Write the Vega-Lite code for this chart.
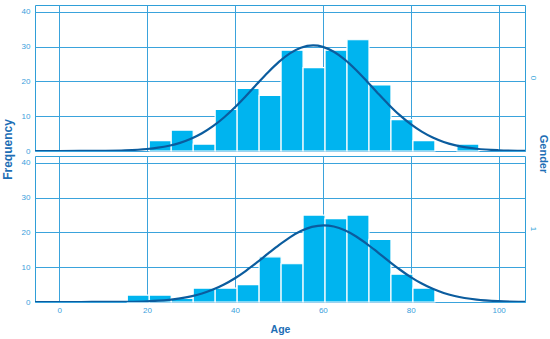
{
  "$schema": "https://vega.github.io/schema/vega-lite/v6.json",
  "padding": {"left": 2, "top": 4, "right": 0, "bottom": 2},
  "background": "white",
  "title": {"text": "Frequency", "orient": "left", "anchor": "middle", "fontSize": 12, "fontWeight": "bold", "color": "#1d6eb5", "font": "Liberation Sans", "offset": 6, "dx": 20},
  "data": {"values": [
    {"Gender": "0", "kind": "bar", "start": 20.5, "end": 25.5, "count": 3},
    {"Gender": "0", "kind": "bar", "start": 25.5, "end": 30.5, "count": 6},
    {"Gender": "0", "kind": "bar", "start": 30.5, "end": 35.5, "count": 2},
    {"Gender": "0", "kind": "bar", "start": 35.5, "end": 40.5, "count": 12},
    {"Gender": "0", "kind": "bar", "start": 40.5, "end": 45.5, "count": 18},
    {"Gender": "0", "kind": "bar", "start": 45.5, "end": 50.5, "count": 16},
    {"Gender": "0", "kind": "bar", "start": 50.5, "end": 55.5, "count": 29},
    {"Gender": "0", "kind": "bar", "start": 55.5, "end": 60.5, "count": 24},
    {"Gender": "0", "kind": "bar", "start": 60.5, "end": 65.5, "count": 29},
    {"Gender": "0", "kind": "bar", "start": 65.5, "end": 70.5, "count": 32},
    {"Gender": "0", "kind": "bar", "start": 70.5, "end": 75.5, "count": 19},
    {"Gender": "0", "kind": "bar", "start": 75.5, "end": 80.5, "count": 9},
    {"Gender": "0", "kind": "bar", "start": 80.5, "end": 85.5, "count": 3},
    {"Gender": "0", "kind": "bar", "start": 90.5, "end": 95.5, "count": 2},
    {"Gender": "1", "kind": "bar", "start": 15.5, "end": 20.5, "count": 2},
    {"Gender": "1", "kind": "bar", "start": 20.5, "end": 25.5, "count": 2},
    {"Gender": "1", "kind": "bar", "start": 25.5, "end": 30.5, "count": 1},
    {"Gender": "1", "kind": "bar", "start": 30.5, "end": 35.5, "count": 4},
    {"Gender": "1", "kind": "bar", "start": 35.5, "end": 40.5, "count": 4},
    {"Gender": "1", "kind": "bar", "start": 40.5, "end": 45.5, "count": 5},
    {"Gender": "1", "kind": "bar", "start": 45.5, "end": 50.5, "count": 13},
    {"Gender": "1", "kind": "bar", "start": 50.5, "end": 55.5, "count": 11},
    {"Gender": "1", "kind": "bar", "start": 55.5, "end": 60.5, "count": 25},
    {"Gender": "1", "kind": "bar", "start": 60.5, "end": 65.5, "count": 24},
    {"Gender": "1", "kind": "bar", "start": 65.5, "end": 70.5, "count": 25},
    {"Gender": "1", "kind": "bar", "start": 70.5, "end": 75.5, "count": 18},
    {"Gender": "1", "kind": "bar", "start": 75.5, "end": 80.5, "count": 8},
    {"Gender": "1", "kind": "bar", "start": 80.5, "end": 85.5, "count": 4},
    {"Gender": "0", "kind": "curve", "age": -6, "density": 0.0003},
    {"Gender": "0", "kind": "curve", "age": 0, "density": 0.003},
    {"Gender": "0", "kind": "curve", "age": 5, "density": 0.013},
    {"Gender": "0", "kind": "curve", "age": 10, "density": 0.053},
    {"Gender": "0", "kind": "curve", "age": 15, "density": 0.185},
    {"Gender": "0", "kind": "curve", "age": 20, "density": 0.57},
    {"Gender": "0", "kind": "curve", "age": 22.5, "density": 0.95},
    {"Gender": "0", "kind": "curve", "age": 25, "density": 1.52},
    {"Gender": "0", "kind": "curve", "age": 27.5, "density": 2.35},
    {"Gender": "0", "kind": "curve", "age": 30, "density": 3.53},
    {"Gender": "0", "kind": "curve", "age": 32.5, "density": 5.11},
    {"Gender": "0", "kind": "curve", "age": 35, "density": 7.14},
    {"Gender": "0", "kind": "curve", "age": 37.5, "density": 9.64},
    {"Gender": "0", "kind": "curve", "age": 40, "density": 12.57},
    {"Gender": "0", "kind": "curve", "age": 42.5, "density": 15.83},
    {"Gender": "0", "kind": "curve", "age": 45, "density": 19.25},
    {"Gender": "0", "kind": "curve", "age": 47.5, "density": 22.6},
    {"Gender": "0", "kind": "curve", "age": 50, "density": 25.64},
    {"Gender": "0", "kind": "curve", "age": 52.5, "density": 28.09},
    {"Gender": "0", "kind": "curve", "age": 55, "density": 29.71},
    {"Gender": "0", "kind": "curve", "age": 57.8, "density": 30.37},
    {"Gender": "0", "kind": "curve", "age": 60, "density": 29.96},
    {"Gender": "0", "kind": "curve", "age": 62.5, "density": 28.56},
    {"Gender": "0", "kind": "curve", "age": 65, "density": 26.29},
    {"Gender": "0", "kind": "curve", "age": 67.5, "density": 23.37},
    {"Gender": "0", "kind": "curve", "age": 70, "density": 20.07},
    {"Gender": "0", "kind": "curve", "age": 72.5, "density": 16.64},
    {"Gender": "0", "kind": "curve", "age": 75, "density": 13.33},
    {"Gender": "0", "kind": "curve", "age": 77.5, "density": 10.3},
    {"Gender": "0", "kind": "curve", "age": 80, "density": 7.7},
    {"Gender": "0", "kind": "curve", "age": 82.5, "density": 5.56},
    {"Gender": "0", "kind": "curve", "age": 85, "density": 3.87},
    {"Gender": "0", "kind": "curve", "age": 87.5, "density": 2.61},
    {"Gender": "0", "kind": "curve", "age": 90, "density": 1.69},
    {"Gender": "0", "kind": "curve", "age": 95, "density": 0.64},
    {"Gender": "0", "kind": "curve", "age": 100, "density": 0.21},
    {"Gender": "0", "kind": "curve", "age": 105, "density": 0.061},
    {"Gender": "0", "kind": "curve", "age": 107, "density": 0.03},
    {"Gender": "1", "kind": "curve", "age": -6, "density": 0.0001},
    {"Gender": "1", "kind": "curve", "age": 0, "density": 0.0007},
    {"Gender": "1", "kind": "curve", "age": 5, "density": 0.0035},
    {"Gender": "1", "kind": "curve", "age": 10, "density": 0.016},
    {"Gender": "1", "kind": "curve", "age": 15, "density": 0.063},
    {"Gender": "1", "kind": "curve", "age": 20, "density": 0.21},
    {"Gender": "1", "kind": "curve", "age": 22.5, "density": 0.37},
    {"Gender": "1", "kind": "curve", "age": 25, "density": 0.63},
    {"Gender": "1", "kind": "curve", "age": 27.5, "density": 1.03},
    {"Gender": "1", "kind": "curve", "age": 30, "density": 1.61},
    {"Gender": "1", "kind": "curve", "age": 32.5, "density": 2.44},
    {"Gender": "1", "kind": "curve", "age": 35, "density": 3.57},
    {"Gender": "1", "kind": "curve", "age": 37.5, "density": 5.03},
    {"Gender": "1", "kind": "curve", "age": 40, "density": 6.84},
    {"Gender": "1", "kind": "curve", "age": 42.5, "density": 8.98},
    {"Gender": "1", "kind": "curve", "age": 45, "density": 11.37},
    {"Gender": "1", "kind": "curve", "age": 47.5, "density": 13.89},
    {"Gender": "1", "kind": "curve", "age": 50, "density": 16.37},
    {"Gender": "1", "kind": "curve", "age": 52.5, "density": 18.61},
    {"Gender": "1", "kind": "curve", "age": 55, "density": 20.41},
    {"Gender": "1", "kind": "curve", "age": 57.5, "density": 21.6},
    {"Gender": "1", "kind": "curve", "age": 60.2, "density": 22.06},
    {"Gender": "1", "kind": "curve", "age": 62.5, "density": 21.73},
    {"Gender": "1", "kind": "curve", "age": 65, "density": 20.65},
    {"Gender": "1", "kind": "curve", "age": 67.5, "density": 18.93},
    {"Gender": "1", "kind": "curve", "age": 70, "density": 16.75},
    {"Gender": "1", "kind": "curve", "age": 72.5, "density": 14.29},
    {"Gender": "1", "kind": "curve", "age": 75, "density": 11.77},
    {"Gender": "1", "kind": "curve", "age": 77.5, "density": 9.35},
    {"Gender": "1", "kind": "curve", "age": 80, "density": 7.16},
    {"Gender": "1", "kind": "curve", "age": 82.5, "density": 5.3},
    {"Gender": "1", "kind": "curve", "age": 85, "density": 3.78},
    {"Gender": "1", "kind": "curve", "age": 87.5, "density": 2.6},
    {"Gender": "1", "kind": "curve", "age": 90, "density": 1.73},
    {"Gender": "1", "kind": "curve", "age": 95, "density": 0.68},
    {"Gender": "1", "kind": "curve", "age": 100, "density": 0.23},
    {"Gender": "1", "kind": "curve", "age": 105, "density": 0.07},
    {"Gender": "1", "kind": "curve", "age": 107, "density": 0.04}
  ]},
  "facet": {"row": {"field": "Gender", "type": "nominal", "sort": ["0", "1"], "title": "Gender",
    "header": {"labelOrient": "right", "labelAngle": 90, "labelColor": "#2f9fd8", "labelFont": "Liberation Sans", "labelFontSize": 8, "labelPadding": 3,
      "titleOrient": "right", "titleAngle": 90, "titleColor": "#1d6eb5", "titleFont": "Liberation Sans", "titleFontWeight": "bold", "titleFontSize": 11, "titlePadding": -9}}},
  "spacing": 2,
  "spec": {
    "width": 490,
    "height": 146,
    "layer": [
      {
        "transform": [{"filter": "datum.kind == 'bar'"}],
        "mark": {"type": "rect", "color": "#00b4ef", "stroke": "white", "strokeWidth": 1.2},
        "encoding": {
          "x": {"field": "start", "type": "quantitative", "scale": {"domain": [-5.5, 106], "nice": false, "zero": false},
            "axis": {"values": [0, 20, 40, 60, 80, 100], "title": "Age", "titleFontSize": 10.5, "titlePadding": 10, "labelPadding": 2}},
          "x2": {"field": "end"},
          "y": {"field": "count", "type": "quantitative", "scale": {"domain": [0, 42], "nice": false},
            "axis": {"values": [0, 10, 20, 30, 40], "title": null, "labelPadding": 4, "labelOverlap": false}}
        }
      },
      {
        "transform": [{"filter": "datum.kind == 'curve'"}],
        "mark": {"type": "line", "color": "#0b5c9e", "strokeWidth": 2.2, "interpolate": "monotone", "clip": true},
        "encoding": {
          "x": {"field": "age", "type": "quantitative", "axis": {"values": [0, 20, 40, 60, 80, 100], "title": "Age", "titleFontSize": 10.5, "titlePadding": 10, "labelPadding": 2}},
          "y": {"field": "density", "type": "quantitative", "axis": {"values": [0, 10, 20, 30, 40], "title": null, "labelPadding": 4, "labelOverlap": false}}
        }
      }
    ]
  },
  "resolve": {"scale": {"x": "shared", "y": "shared"}},
  "config": {
    "font": "Liberation Sans",
    "view": {"stroke": "#2f9fd8", "strokeWidth": 1},
    "axis": {"domain": false, "ticks": false, "grid": true, "gridColor": "#3aa3dc", "gridOpacity": 1, "gridWidth": 1, "zindex": 1,
      "labelColor": "#3aa0dc", "labelFont": "Liberation Sans", "labelFontSize": 8, "labelOverlap": false,
      "titleColor": "#1d6eb5", "titleFont": "Liberation Sans", "titleFontWeight": "bold"}
  }
}
